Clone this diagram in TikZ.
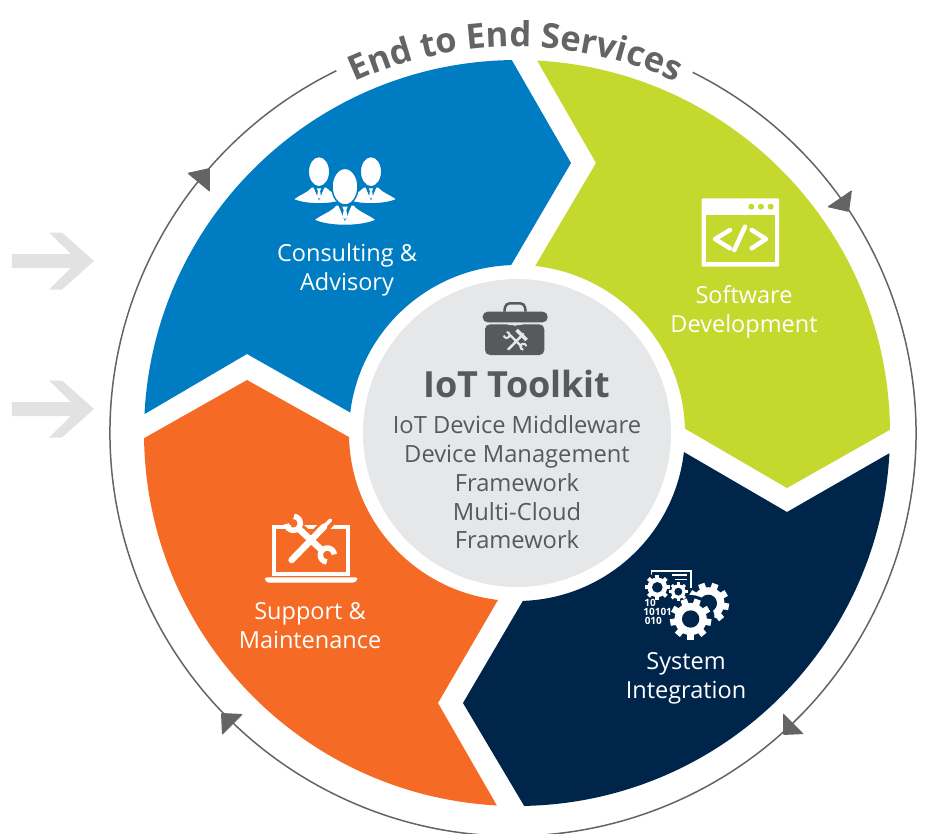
\documentclass[tikz,border=0pt]{standalone}
\usepackage{fontspec}
\setmainfont{Open Sans}
\usetikzlibrary{decorations.text}

\definecolor{consultblue}{HTML}{007CC3}
\definecolor{softgreen}{HTML}{C4D82E}
\definecolor{sysnavy}{HTML}{00254B}
\definecolor{supportorange}{HTML}{F56B25}
\definecolor{ringgray}{HTML}{636466}
\definecolor{toolgray}{HTML}{58595B}
\definecolor{discgray}{HTML}{E6E7E8}
\definecolor{sidegray}{HTML}{E2E2E2}

\tikzset{
	seclabel/.style={text=white, align=center, font=\fontsize{23.5}{29}\selectfont},
	bitlabel/.style={text=white, font=\fontsize{10}{10}\bfseries\selectfont},
	traced/.style 2 args={shift={(#1-517,433-#2)}, yscale=-1, scale=1/3}
}

% person at (x,y), scale
\newcommand{\personicon}[3]{
	\begin{scope}[shift={(#1,#2)}, scale=#3]
		\filldraw [fill=white, draw=consultblue, line width=1.5] (0,0) ellipse (39 and 55);
		\filldraw [fill=white, draw=consultblue, line width=1.5] (-95,100) .. controls (-70,80) and (-45,75) .. (-28,55) -- (28,55) .. controls (45,75) and (70,80) .. (95,100) .. controls (50,122) and (-50,122) .. cycle;
		\fill [consultblue] (-20,55) -- (20,55) -- (0,104) -- cycle;
		\fill [white] (-8,60) -- (8,60) -- (4,70) -- (7,90) -- (0,98) -- (-7,90) -- (-4,70) -- cycle;
	\end{scope}
}

% gear at (x,y), outer radius, number of teeth
\newcommand{\geartooth}[4]{
	\begin{scope}[shift={(#1,#2)}]
		\foreach \a in {1,...,#4}
			\fill [white, rotate=\a*360/#4] (-0.16*#3,0) rectangle (0.16*#3,#3);
		\fill [white] (0,0) circle (0.78*#3);
		\fill [sysnavy] (0,0) circle (0.42*#3);
	\end{scope}
}

\begin{document}
\begin{tikzpicture}[x=1pt, y=1pt]
	\clip (-517,-400) rectangle (408,433);
	% side arrows
	\foreach \y in {172,24}
		\fill [sidegray] (-505,\y+7) -- (-446,\y+7) -- (-468,\y+28.5) -- (-455,\y+28.5) -- (-423,\y) -- (-455,\y-28.5) -- (-468,\y-28.5) -- (-446,\y-7) -- (-505,\y-7) -- cycle;
	% ring
	\draw [ringgray, line width=1.5] (-4,0) ++(63.5:403) arc (63.5:-244:403);
	\fill [ringgray, rounded corners=1] (-330,260) -- (-307,265) -- (-307,241) -- cycle;
	\fill [ringgray, rounded corners=1] (310,226) -- (335,243) -- (332,221) -- cycle;
	\fill [ringgray, rounded corners=1] (266,-280) -- (287,-301) -- (266,-302) -- cycle;
	\fill [ringgray, rounded corners=1] (-296,-280) -- (-274,-281) -- (-295,-302) -- cycle;
	\path [decorate, decoration={text along path, text align=center, text color=ringgray,
		text={|\fontsize{34.5}{34.5}\bfseries\selectfont|End to End Services}}]
		(-2,0) ++(130:386) arc (130:50:386);
	% sections
	\fill [consultblue] (177.1:373) arc (177.1:90.8:373) -- (54,270) -- (92:168) arc (92:173:168) -- (-270,79) -- cycle;
	\fill [softgreen] (86.9:373) arc (86.9:0.5:373) -- (270,-55) -- (1.5:168) arc (1.5:83.8:168) -- (79,270) -- cycle;
	\fill [sysnavy] (-3.1:373) arc (-3.1:-88.9:373) -- (-54,-270) -- (-88:168) arc (-88:-6.5:168) -- (270,-79) -- cycle;
	\fill [supportorange] (266.9:373) arc (266.9:180.8:373) -- (-270,53) -- (181.4:168) arc (181.4:263.5:168) -- (-79,-270) -- cycle;
	\fill [discgray] (0,0) circle (154);
	% labels
	\node [seclabel] (consulting) at (-170,163.5) {Consulting \&\\Advisory};
	\node [seclabel] (software) at (227,121) {Software\\Development};
	\node [seclabel] (integration) at (169,-245) {System\\Integration};
	\node [seclabel] (support) at (-207,-193) {Support \&\\Maintenance};
	\node [text=toolgray, font=\fontsize{36}{36}\bfseries\selectfont] (toolkit) at (0,49) {IoT Toolkit};
	\node [text=toolgray, align=center, font=\fontsize{23.7}{28.75}\selectfont] (toolkitlist) at (0,-49.5) {IoT Device Middleware\\Device Management\\Framework\\Multi-Cloud\\Framework};
	% people icon
	\begin{scope}[traced={270}{140}]
		\personicon{147}{95}{0.83}
		\personicon{303}{95}{0.83}
		\personicon{225}{140}{1}
	\end{scope}
	% code window icon
	\begin{scope}[traced={680}{180}]
		\fill [white, rounded corners=1] (65,55) rectangle (297,260);
		\fill [softgreen] (78,105) rectangle (284,247);
		\foreach \x in {214,243,272}
			\fill [softgreen] (\x,80) circle (9);
		\draw [white, line width=4.5, line cap=round, line join=round] (150,150) -- (105,177) -- (150,205);
		\draw [white, line width=4.5, line cap=round] (195,140) -- (163,210);
		\draw [white, line width=4.5, line cap=round, line join=round] (215,150) -- (258,177) -- (215,205);
	\end{scope}
	% toolbox icon
	\begin{scope}[traced={460}{290}]
		\draw [toolgray, line width=2.5, rounded corners=4] (133,65) -- (137,40) -- (193,40) -- (197,65);
		\fill [toolgray, rounded corners=5] (68,97) -- (68,65) -- (263,65) -- (263,97) -- cycle;
		\fill [toolgray, rounded corners=5] (75,103) -- (150,103) -- (165,112) -- (180,103) -- (253,103) -- (253,195) -- (75,195) -- cycle;
		\draw [discgray, line width=2.5, line cap=round] (145,178) -- (190,132);
		\draw [discgray, line width=3.5] (170,120) -- (200,150);
		\draw [discgray, line width=2.2, line cap=round] (150,135) -- (185,170);
		\draw [discgray, line width=2] (140,135) ++(270:9) arc (-90:170:9);
		\draw [discgray, line width=2] (190,170) ++(90:9) arc (90:350:9);
	\end{scope}
	% laptop icon
	\begin{scope}[traced={250}{500}]
		\draw [white, line width=4.2] (71,81) rectangle (294,222);
		\fill [white, rounded corners=2] (45,232) -- (322,232) -- (322,240) -- (315,248) -- (50,248) -- (45,240) -- cycle;
		\draw [supportorange, line width=12] (125,180) -- (240,62);
		\draw [supportorange, line width=12] (130,70) -- (232,165);
		\draw [white, line width=6.5, line cap=round] (125,180) -- (222,80);
		\draw [white, line width=3.5, line cap=round] (222,80) -- (242,60);
		\draw [white, line width=6.5] (148,88) -- (215,150);
		\draw [white, line width=5.5] (130,70) ++(275:21) arc (275:535:21);
		\draw [white, line width=5.5] (232,165) ++(95:21) arc (95:355:21);
	\end{scope}
	% gears icon
	\begin{scope}[traced={630}{560}]
		\draw [white, line width=1.3] (65,55) -- (65,33) -- (183,33) -- (183,85);
		\draw [white, line width=1.3] (125,45) -- (170,45);
		\draw [white, line width=1.3] (135,58) -- (170,58);
		\geartooth{235}{130}{62}{9}
		\fill [sysnavy] (182,177) circle (72);
		\geartooth{182}{177}{62}{9}
		\fill [sysnavy] (82,82) circle (42);
		\geartooth{82}{82}{38}{8}
		\geartooth{145}{95}{28}{8}
		\node [bitlabel] (bitsa) at (60,128) {10};
		\node [bitlabel] (bitsb) at (83,155) {10101};
		\node [bitlabel] (bitsc) at (70,182) {010};
	\end{scope}
\end{tikzpicture}
\end{document}
